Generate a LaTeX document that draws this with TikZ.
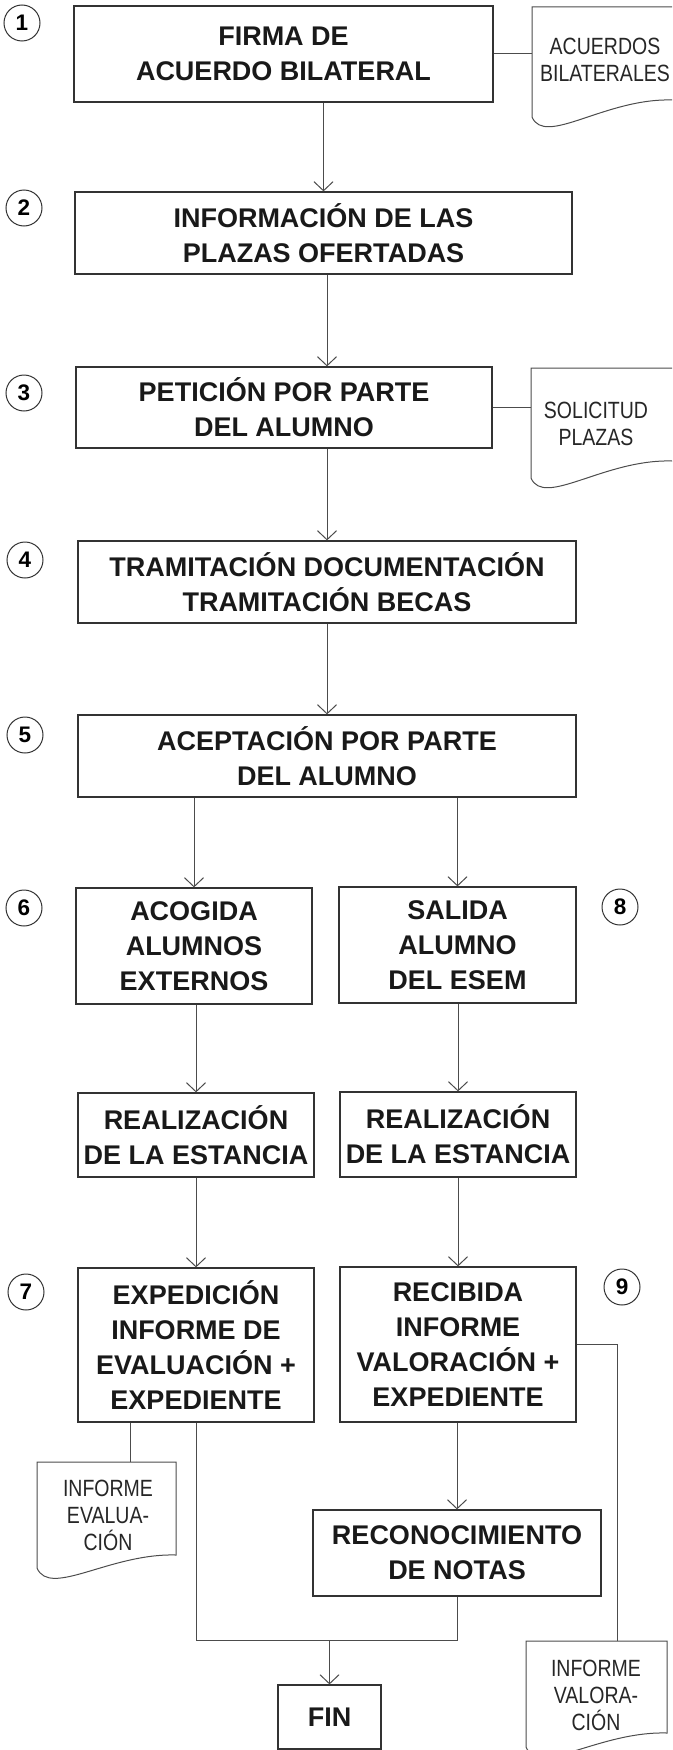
\documentclass[tikz,border=0pt]{standalone}
\usepackage{fontspec}
\setmainfont{Liberation Sans}
\newfontfamily\docfont[FakeStretch=0.83]{Liberation Sans}
\usetikzlibrary{arrows.meta}
\tikzset{
  paso/.style={draw=black!80, line width=1.2pt, align=center, inner sep=0pt, text=black!90,
    font=\fontsize{27}{35}\selectfont\bfseries},
  numero/.style={draw=black!80, line width=1pt, circle, minimum size=36pt, inner sep=0pt,
    font=\fontsize{22.5}{24}\selectfont\bfseries},
  docu/.style={align=center, inner sep=0pt, text=black!85, font=\docfont\fontsize{23.5}{27}\selectfont},
  linea/.style={draw=black!70, line width=1pt},
  flecha/.style={linea, -{Straight Barb[length=9pt,width=19pt]}},
}
\begin{document}
\begin{tikzpicture}[x=1pt,y=-1pt]
\useasboundingbox (0,0) rectangle (672,1750);
\clip (0,0) rectangle (672,1750);
\node[paso, minimum width=419pt, minimum height=96pt] (firma) at (283.5,54) {FIRMA DE\\ACUERDO BILATERAL};
\node[paso, minimum width=497pt, minimum height=82pt] (info) at (323.5,233) {INFORMACIÓN DE LAS\\PLAZAS OFERTADAS};
\node[paso, minimum width=416pt, minimum height=81pt] (peticion) at (284,407.5) {PETICIÓN POR PARTE\\DEL ALUMNO};
\node[paso, minimum width=498pt, minimum height=82pt] (tramite) at (327,582) {TRAMITACIÓN DOCUMENTACIÓN\\TRAMITACIÓN BECAS};
\node[paso, minimum width=498pt, minimum height=82pt] (acepta) at (327,756) {ACEPTACIÓN POR PARTE\\DEL ALUMNO};
\node[paso, minimum width=236pt, minimum height=116pt] (acogida) at (194,946) {ACOGIDA\\ALUMNOS\\EXTERNOS};
\node[paso, minimum width=237pt, minimum height=116pt] (salida) at (457.5,945) {SALIDA\\ALUMNO\\DEL ESEM};
\node[paso, minimum width=236pt, minimum height=84pt] (estanciaA) at (196,1135) {REALIZACIÓN\\DE LA ESTANCIA};
\node[paso, minimum width=236pt, minimum height=85pt] (estanciaB) at (458,1134.5) {REALIZACIÓN\\DE LA ESTANCIA};
\node[paso, minimum width=236pt, minimum height=154pt] (expedicion) at (196,1345) {EXPEDICIÓN\\INFORME DE\\EVALUACIÓN +\\EXPEDIENTE};
\node[paso, minimum width=236pt, minimum height=155pt] (recibida) at (458,1344.5) {RECIBIDA\\INFORME\\VALORACIÓN +\\EXPEDIENTE};
\node[paso, minimum width=288pt, minimum height=86pt] (notas) at (457,1553) {RECONOCIMIENTO\\DE NOTAS};
\node[paso, minimum width=103pt, minimum height=64pt] (fin) at (329.5,1717) {FIN};
\node[numero] (n1) at (22,23) {1};
\node[numero] (n2) at (24,208) {2};
\node[numero] (n3) at (24,393) {3};
\node[numero] (n4) at (25,560) {4};
\node[numero] (n5) at (25,735) {5};
\node[numero] (n6) at (24,908) {6};
\node[numero] (n7) at (26,1292) {7};
\node[numero] (n8) at (620,907) {8};
\node[numero] (n9) at (622,1287) {9};
\coordinate (acuerdos-nw) at (532,7); \coordinate (solicitud-nw) at (531,368);
\coordinate (evaluacion-n) at (130,1462); \coordinate (valoracion-n) at (617,1641);
\coordinate (union) at (329.5,1640);
\draw[linea] (672,100) .. controls (605,98) and (545,147) .. (532,117) -- (acuerdos-nw) -- (672,7);
\draw[linea] (672,461) .. controls (604,459) and (544,508) .. (531,478) -- (solicitud-nw) -- (672,368);
\draw[linea] (176,1555) .. controls (110,1553) and (50,1598) .. (37,1568) -- (37,1462) -- (176,1462) -- cycle;
\draw[linea] (667,1733) .. controls (599,1731) and (539,1777) .. (526,1747) -- (526,1641) -- (667,1641) -- cycle;
\node[docu] (acuerdos) at (605,60) {ACUERDOS\\BILATERALES};
\node[docu] (solicitud) at (596,424) {SOLICITUD\\PLAZAS};
\node[docu] (evaluacion) at (108,1515) {INFORME\\EVALUA-\\CIÓN};
\node[docu] (valoracion) at (596,1695) {INFORME\\VALORA-\\CIÓN};
\draw[flecha] (info.north |- firma.south) -- (info.north);
\draw[flecha] (tramite.north |- info.south) -- (tramite.north |- peticion.north);
\draw[flecha] (tramite.north |- peticion.south) -- (tramite.north);
\draw[flecha] (tramite.south) -- (acepta.north);
\draw[flecha] (acogida.north |- acepta.south) -- (acogida.north);
\draw[flecha] (salida.north |- acepta.south) -- (salida.north);
\draw[flecha] (estanciaA.north |- acogida.south) -- (estanciaA.north);
\draw[flecha] (estanciaB.north |- salida.south) -- (estanciaB.north);
\draw[flecha] (estanciaA.south) -- (expedicion.north);
\draw[flecha] (estanciaB.south) -- (recibida.north);
\draw[flecha] (notas.north |- recibida.south) -- (notas.north);
\draw[linea] (firma.east) -- (firma.east -| acuerdos-nw);
\draw[linea] (peticion.east) -- (peticion.east -| solicitud-nw);
\draw[linea] (evaluacion-n |- expedicion.south) -- (evaluacion-n);
\draw[linea] (recibida.east) -| (valoracion-n);
\draw[linea] (expedicion.south) |- (union) -| (notas.south);
\draw[flecha] (union) -- (fin.north);
\end{tikzpicture}
\end{document}
